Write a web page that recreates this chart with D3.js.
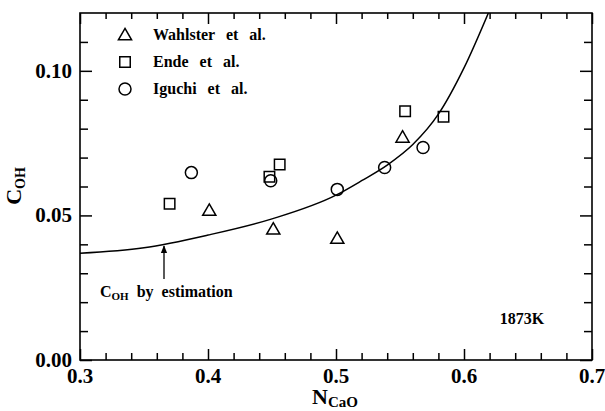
<!DOCTYPE html>
<html>
<head>
<meta charset="utf-8">
<script src="https://cdn.jsdelivr.net/npm/d3@7"></script>
<style>
  body { margin: 0; background: #fff; }
</style>
</head>
<body>
<div id="chart"></div>
<script>
// Wahlster et al.
const wahlsterX = [0.401, 0.451, 0.501, 0.552];
const wahlsterY = [0.0517, 0.0452, 0.0420, 0.0770];
// Ende et al.
const endeX = [0.370, 0.448, 0.456, 0.554, 0.584];
const endeY = [0.0540, 0.0634, 0.0676, 0.0860, 0.0841];
// Iguchi et al.
const iguchiX = [0.387, 0.449, 0.501, 0.538, 0.568];
const iguchiY = [0.0648, 0.0620, 0.0590, 0.0666, 0.0735];
// estimated curve
const curveX = [0.30, 0.35, 0.40, 0.45, 0.50, 0.52, 0.54, 0.56, 0.58, 0.60, 0.62];
const curveY = [0.0369, 0.0388, 0.0432, 0.0488, 0.0570, 0.0620, 0.0674, 0.0745, 0.0850, 0.1010, 0.1210];

const xMajor = [0.3, 0.4, 0.5, 0.6, 0.7];
const yMajor = [0.00, 0.05, 0.10];

const width = 605, height = 411;
const margin = {top: 13, right: 13, bottom: 51, left: 80};
const w = width - margin.left - margin.right;
const h = height - margin.top - margin.bottom;

// serif bold text everywhere
function serif(sel, size) {
  return sel.style('font-family', "'Liberation Serif', 'Times New Roman', Times")
    .style('font-weight', 'bold')
    .style('font-size', size + 'px');
}

const svg = d3.select('#chart').append('svg')
  .attr('width', width)
  .attr('height', height);

const x = d3.scaleLinear().domain([0.3, 0.7]).range([0, w]);
const y = d3.scaleLinear().domain([0, 0.12]).range([h, 0]);

const g = svg.append('g')
  .attr('transform', 'translate(' + margin.left + ',' + margin.top + ')');

const xMinor = d3.range(0.32, 0.7, 0.02).filter(v => Math.abs(v * 10 - Math.round(v * 10)) > 1e-6);
const yMinor = d3.range(0.01, 0.12, 0.01).filter(v => Math.abs(v * 20 - Math.round(v * 20)) > 1e-6);

function styleAxis(sel) {
  sel.select('.domain').remove();
  sel.selectAll('line').attr('stroke', '#000').attr('stroke-width', 1.5);
}

// major + minor ticks, inward on all four sides
g.append('g').attr('transform', 'translate(0,' + h + ')')
  .call(d3.axisBottom(x).tickValues(xMajor).tickSize(-11).tickFormat(''))
  .call(styleAxis);
g.append('g').attr('transform', 'translate(0,' + h + ')')
  .call(d3.axisBottom(x).tickValues(xMinor).tickSize(-7).tickFormat(''))
  .call(styleAxis);
g.append('g')
  .call(d3.axisTop(x).tickValues(xMajor).tickSize(-11).tickFormat(''))
  .call(styleAxis);
g.append('g')
  .call(d3.axisTop(x).tickValues(xMinor).tickSize(-6).tickFormat(''))
  .call(styleAxis);
g.append('g')
  .call(d3.axisLeft(y).tickValues(yMajor).tickSize(-12).tickFormat(''))
  .call(styleAxis);
g.append('g')
  .call(d3.axisLeft(y).tickValues(yMinor).tickSize(-8).tickFormat(''))
  .call(styleAxis);
g.append('g').attr('transform', 'translate(' + w + ',0)')
  .call(d3.axisRight(y).tickValues(yMajor).tickSize(-12).tickFormat(''))
  .call(styleAxis);
g.append('g').attr('transform', 'translate(' + w + ',0)')
  .call(d3.axisRight(y).tickValues(yMinor).tickSize(-8).tickFormat(''))
  .call(styleAxis);

// frame
g.append('rect')
  .attr('width', w).attr('height', h)
  .attr('fill', 'none').attr('stroke', '#000').attr('stroke-width', 1.6);

// tick labels
g.selectAll('.xlab').data(xMajor).enter().append('text')
  .attr('x', d => x(d)).attr('y', h + 23)
  .attr('text-anchor', 'middle')
  .call(serif, 21)
  .text(d => d3.format('.1f')(d));
g.selectAll('.ylab').data(yMajor).enter().append('text')
  .attr('x', -8).attr('y', d => y(d) + 7)
  .attr('text-anchor', 'end')
  .call(serif, 21)
  .text(d => d3.format('.2f')(d));

// axis titles
const xt = svg.append('text')
  .attr('x', 335).attr('y', 404)
  .attr('text-anchor', 'middle')
  .call(serif, 22);
xt.append('tspan').text('N');
xt.append('tspan').attr('dy', 3).style('font-size', '15px').text('CaO');

const yt = svg.append('text')
  .attr('transform', 'translate(21,186) rotate(-90)')
  .attr('text-anchor', 'middle')
  .call(serif, 22);
yt.append('tspan').text('C');
yt.append('tspan').attr('dy', 4).style('font-size', '14px').text('OH');

// clip for curve
svg.append('clipPath').attr('id', 'clip')
  .append('rect').attr('width', w).attr('height', h);

const line = d3.line()
  .x(d => x(d[0])).y(d => y(d[1]))
  .curve(d3.curveMonotoneX);
g.append('path')
  .datum(curveX.map((v, i) => [v, curveY[i]]))
  .attr('clip-path', 'url(#clip)')
  .attr('d', line)
  .attr('fill', 'none').attr('stroke', '#000').attr('stroke-width', 1.5);

// markers
const tri = d3.symbol().type(d3.symbolTriangle).size(75);
const sq = d3.symbol().type(d3.symbolSquare).size(110);

function drawSeries(xs, ys, type) {
  const pts = xs.map((v, i) => [v, ys[i]]);
  const sel = g.append('g').selectAll('path').data(pts).enter();
  if (type === 'circle') {
    sel.append('circle')
      .attr('cx', d => x(d[0])).attr('cy', d => y(d[1])).attr('r', 6)
      .attr('fill', 'none').attr('stroke', '#000').attr('stroke-width', 1.5);
  } else {
    sel.append('path')
      .attr('d', type === 'tri' ? tri : sq)
      .attr('transform', d => 'translate(' + x(d[0]) + ',' + (y(d[1]) + (type === 'tri' ? 1 : 0)) + ')')
      .attr('fill', 'none').attr('stroke', '#000').attr('stroke-width', 1.5);
  }
}
drawSeries(wahlsterX, wahlsterY, 'tri');
drawSeries(endeX, endeY, 'sq');
drawSeries(iguchiX, iguchiY, 'circle');

// legend
const legend = [
  {label: 'Wahlster et al.', type: 'tri'},
  {label: 'Ende et al.', type: 'sq'},
  {label: 'Iguchi et al.', type: 'circle'}
];
const lg = svg.append('g');
legend.forEach((d, i) => {
  const cy = 35 + i * 27;
  if (d.type === 'circle') {
    lg.append('circle').attr('cx', 125).attr('cy', cy).attr('r', 6)
      .attr('fill', 'none').attr('stroke', '#000').attr('stroke-width', 1.5);
  } else {
    lg.append('path').attr('d', d.type === 'tri' ? tri : sq)
      .attr('transform', 'translate(125,' + (cy + (d.type === 'tri' ? 1 : 0)) + ')')
      .attr('fill', 'none').attr('stroke', '#000').attr('stroke-width', 1.5);
  }
  lg.append('text').attr('x', 153).attr('y', cy + 5)
    .call(serif, 16)
    .style('word-spacing', '7px')
    .text(d.label);
});

// annotation
svg.append('defs').append('marker')
  .attr('id', 'arrow').attr('viewBox', '0 0 10 10')
  .attr('refX', 9).attr('refY', 5)
  .attr('markerWidth', 6).attr('markerHeight', 8)
  .attr('orient', 'auto')
  .append('path').attr('d', 'M0,1 L10,5 L0,9 Z').attr('fill', '#000');
svg.append('line')
  .attr('x1', 164).attr('y1', 279).attr('x2', 164).attr('y2', 246)
  .attr('stroke', '#000').attr('stroke-width', 1.3)
  .attr('marker-end', 'url(#arrow)');
const ann = svg.append('text').attr('x', 100).attr('y', 297)
  .call(serif, 16)
  .style('word-spacing', '4px');
ann.append('tspan').text('C');
ann.append('tspan').attr('dy', 3).style('font-size', '11px').text('OH');
ann.append('tspan').attr('dy', -3).text(' by estimation');

svg.append('text').attr('x', 522).attr('y', 324)
  .attr('text-anchor', 'middle')
  .call(serif, 16)
  .text('1873K');
</script>
</body>
</html>
